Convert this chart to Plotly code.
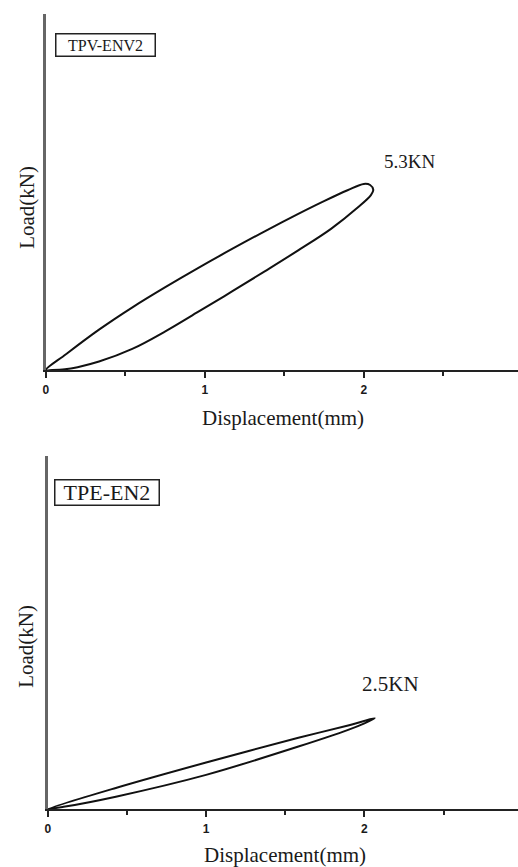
import plotly.graph_objects as go

# TPV-ENV2 hysteresis loop: loading branch then unloading branch (mm, kN)
tpv_load_disp = [0.0, 0.127, 0.335, 0.55, 0.752, 0.96, 1.169, 1.377, 1.585, 1.75, 1.898, 2.0]
tpv_load_force = [0.0, 0.45, 1.15, 1.80, 2.36, 2.91, 3.44, 3.95, 4.44, 4.81, 5.12, 5.30]
tpv_unload_disp = [2.0, 2.04, 2.06, 2.045, 1.96, 1.794, 1.585, 1.377, 1.169, 0.96, 0.752, 0.544, 0.335, 0.2, 0.12, 0.04, 0.0]
tpv_unload_force = [5.30, 5.27, 5.13, 4.98, 4.62, 4.02, 3.40, 2.81, 2.23, 1.66, 1.10, 0.60, 0.24, 0.08, 0.02, 0.0, 0.0]

# TPE-EN2 hysteresis loop
tpe_load_disp = [0.0, 0.43, 1.0, 1.583, 1.897, 2.065]
tpe_load_force = [0.0, 0.58, 1.28, 1.96, 2.30, 2.50]
tpe_unload_disp = [2.065, 2.0, 1.897, 1.583, 1.0, 0.43, 0.1, 0.0]
tpe_unload_force = [2.50, 2.36, 2.18, 1.72, 0.94, 0.34, 0.06, 0.0]

x_tick_vals = [0, 1, 2]
x_tick_text = ["0", "1", "2"]
x_minor_vals = [0.5, 1.5, 2.5]

W, H = 518, 867
SERIF = "Liberation Serif"
INK = "#1a1a1a"

fig = go.Figure()

fig.add_trace(go.Scatter(
    x=tpv_load_disp + tpv_unload_disp[1:],
    y=tpv_load_force + tpv_unload_force[1:],
    mode="lines", line=dict(color="#111", width=2, shape="spline", smoothing=1.0),
    xaxis="x", yaxis="y", showlegend=False, hoverinfo="skip"))

fig.add_trace(go.Scatter(
    x=tpe_load_disp + tpe_unload_disp[1:],
    y=tpe_load_force + tpe_unload_force[1:],
    mode="lines", line=dict(color="#111", width=2, shape="spline", smoothing=0.8),
    xaxis="x2", yaxis="y2", showlegend=False, hoverinfo="skip"))


def x_axis(domain, anchor):
    return dict(
        domain=domain, anchor=anchor, range=[0, 2.97],
        showline=True, linecolor="#222", linewidth=2,
        ticks="outside", tickvals=x_tick_vals, ticktext=x_tick_text,
        ticklen=6, tickwidth=1.5, tickcolor="#222",
        minor=dict(tickvals=x_minor_vals, ticks="outside", ticklen=4,
                   tickwidth=1.5, tickcolor="#222"),
        tickfont=dict(family="Liberation Sans", size=12, color=INK, weight="bold"),
        ticklabelstandoff=2,
        showgrid=False, zeroline=False, fixedrange=True)


def y_axis(domain, anchor, top):
    return dict(
        domain=domain, anchor=anchor, range=[0, top],
        showline=True, linecolor="#666", linewidth=2.5,
        showticklabels=False, ticks="", showgrid=False, zeroline=False,
        fixedrange=True)


fig.update_layout(
    width=W, height=H,
    margin=dict(l=0, r=0, t=0, b=0),
    paper_bgcolor="white", plot_bgcolor="white",
    xaxis=x_axis([43 / W, 1], "y"),
    yaxis=y_axis([1 - 370 / H, 1 - 14 / H], "x", 10.14),
    xaxis2=x_axis([45 / W, 1], "y2"),
    yaxis2=y_axis([1 - 809 / H, 1 - 456 / H], "x2", 9.72),
)

tpv_peak = max(tpv_load_force)
tpe_peak = max(tpe_load_force)
tpv_peak_x = tpv_load_disp[tpv_load_force.index(tpv_peak)]
tpe_peak_x = tpe_load_disp[tpe_load_force.index(tpe_peak)]

centered = dict(xanchor="center", yanchor="middle", showarrow=False)

annotations = [
    # peak load labels
    dict(x=tpv_peak_x, y=tpv_peak, xref="x", yref="y", xshift=46, yshift=22,
         text=f"{tpv_peak}KN", font=dict(family=SERIF, size=19, color=INK), **centered),
    dict(x=tpe_peak_x, y=tpe_peak, xref="x2", yref="y2", xshift=16, yshift=34,
         text=f"{tpe_peak}KN", font=dict(family=SERIF, size=21, color=INK), **centered),
    # specimen name boxes
    dict(x=103.5 / W, y=1 - 45.3 / H, xref="paper", yref="paper",
         text="TPV-ENV2", width=96, height=19,
         bordercolor="#222", borderwidth=1.5, borderpad=1,
         font=dict(family=SERIF, size=16, color=INK), **centered),
    dict(x=105 / W, y=1 - 492 / H, xref="paper", yref="paper",
         text="TPE-EN2", width=101, height=22,
         bordercolor="#222", borderwidth=1.5, borderpad=1,
         font=dict(family=SERIF, size=22, color=INK), **centered),
    # axis titles
    dict(x=282 / W, y=1 - 418 / H, xref="paper", yref="paper",
         text="Displacement(mm)", font=dict(family=SERIF, size=21, color=INK), **centered),
    dict(x=284 / W, y=1 - 855 / H, xref="paper", yref="paper",
         text="Displacement(mm)", font=dict(family=SERIF, size=21, color=INK), **centered),
    dict(x=24 / W, y=1 - 207 / H, xref="paper", yref="paper", textangle=-90,
         text="Load(kN)", font=dict(family=SERIF, size=21, color=INK), **centered),
    dict(x=23 / W, y=1 - 646 / H, xref="paper", yref="paper", textangle=-90,
         text="Load(kN)", font=dict(family=SERIF, size=21, color=INK), **centered),
]
fig.update_layout(annotations=annotations)

fig.write_html("out.html", config={"displayModeBar": False})
